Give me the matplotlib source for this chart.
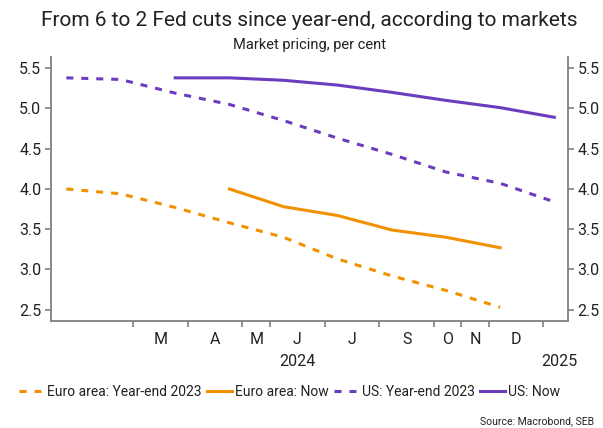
import numpy as np
import matplotlib.pyplot as plt

plt.rcParams['font.family'] = ['Roboto', 'DejaVu Sans']

# meeting-by-meeting pricing, x in month units along the axis
x_pts = [0.28, 1.27, 2.27, 3.26, 4.25, 5.24, 6.23, 7.22, 8.21, 9.20]
euro_ye = [4.00, 3.94, 3.77, 3.58, 3.40, 3.13, 2.92, 2.74, 2.53]
euro_now = [4.00, 3.78, 3.67, 3.49, 3.40, 3.27]
us_ye = [5.38, 5.36, 5.19, 5.05, 4.85, 4.63, 4.43, 4.21, 4.07, 3.84]
us_now = [5.38, 5.38, 5.35, 5.29, 5.20, 5.10, 5.01, 4.89]

tick_pos = [1.5, 2.5, 3.5, 4.0, 5.0, 6.0, 7.0, 7.5, 8.0, 9.0]
month_labels = ["M", "A", "M", "J", "J", "S", "O", "N", "D"]
year_labels = [(4.5, "2024"), (9.3, "2025")]
y_ticks = [2.5, 3.0, 3.5, 4.0, 4.5, 5.0, 5.5]

ORANGE = "#F29100"
PURPLE = "#6A3DBE"
GREY = "#808080"
TXT = "#222222"

fig = plt.figure(figsize=(6.03, 4.28), dpi=100)
ax = fig.add_axes([0.0846, 0.25, 0.8574, 0.617])

lw = 2.2
dash = (2.3, 2.6)
ax.plot(x_pts[:len(euro_ye)], euro_ye, color=ORANGE, lw=lw, dashes=dash,
        label="Euro area: Year-end 2023")
ax.plot(x_pts[3:3 + len(euro_now)], euro_now, color=ORANGE, lw=lw,
        label="Euro area: Now")
ax.plot(x_pts, us_ye, color=PURPLE, lw=lw, dashes=dash,
        label="US: Year-end 2023")
ax.plot(x_pts[2:], us_now, color=PURPLE, lw=lw, label="US: Now")

ax.set_xlim(0, 9.45)
ax.set_ylim(2.36, 5.64)

for s in ["left", "right", "bottom"]:
    ax.spines[s].set_color(GREY)
    ax.spines[s].set_linewidth(1.3)
ax.spines["top"].set_visible(False)

ax.set_yticks(y_ticks)
ax.set_yticklabels([f"{v:.1f}" for v in y_ticks])
ax.tick_params(axis="y", which="major", left=True, right=True,
               labelleft=True, labelright=True, length=4, width=1.2,
               color=GREY, labelsize=11.5, labelcolor=TXT, pad=3)

# month boundaries as ticks, names centred between them
mids = [(a + b) / 2 for a, b in zip(tick_pos[:-1], tick_pos[1:])]
ax.set_xticks(tick_pos)
ax.set_xticklabels([])
ax.set_xticks(mids, minor=True)
ax.set_xticklabels(month_labels, minor=True)
ax.tick_params(axis="x", which="major", length=4, width=1.2, color=GREY)
ax.tick_params(axis="x", which="minor", length=0, labelsize=11.5,
               labelcolor=TXT, pad=8)

for xv, txt in year_labels:
    ax.text(xv, -0.155, txt, transform=ax.get_xaxis_transform(),
            ha="center", va="center", fontsize=11.5, color=TXT)

cx = 0.0846 + 0.8574 / 2
fig.text(cx, 1 - 20 / 428, "From 6 to 2 Fed cuts since year-end, according to markets",
         ha="center", va="center", fontsize=15, color=TXT)
fig.text(cx, 1 - 45 / 428, "Market pricing, per cent",
         ha="center", va="center", fontsize=10.5, color=TXT)

fig.legend(loc="center", bbox_to_anchor=(0.48, 1 - 392 / 428), ncol=4,
           frameon=False, fontsize=10, handlelength=1.8, handletextpad=0.2,
           columnspacing=0.4, labelcolor=TXT)

fig.text(0.985, 1 - 421 / 428, "Source: Macrobond, SEB", ha="right",
         va="center", fontsize=7.5, color=TXT)

fig.savefig("out.png", dpi=100)
